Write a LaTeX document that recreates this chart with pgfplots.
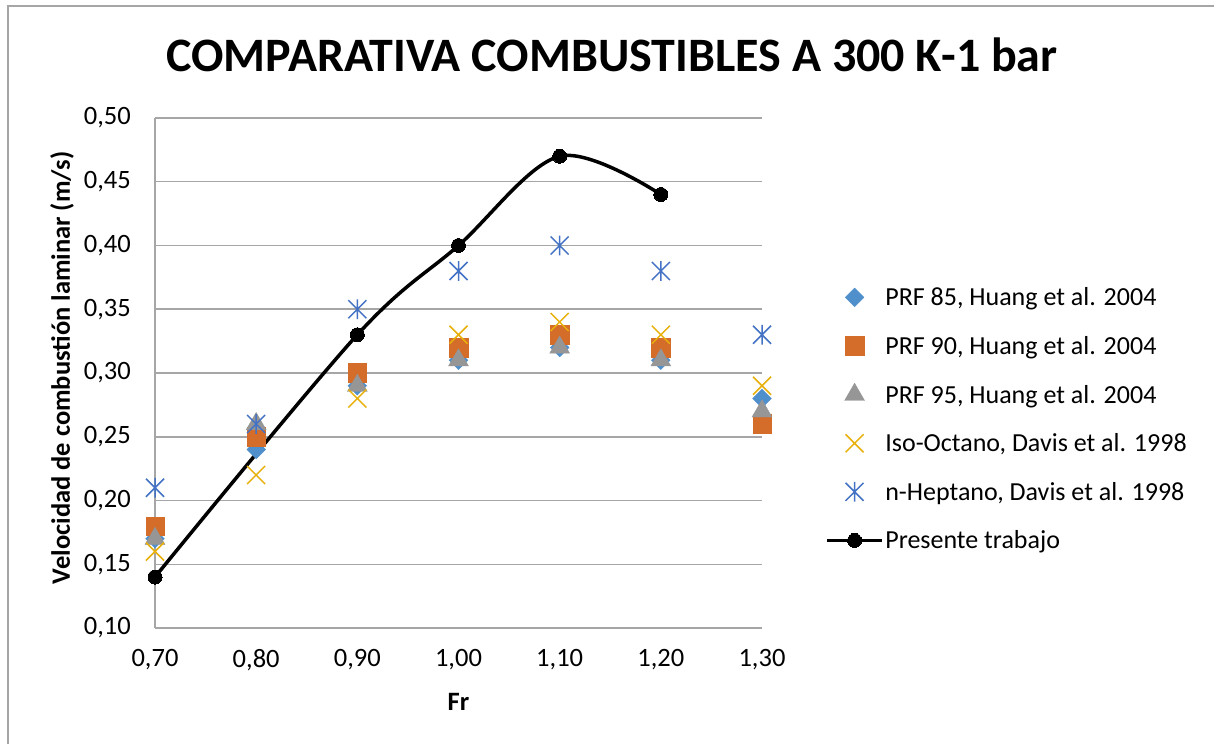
\documentclass[border=0pt]{standalone}
\usepackage{fontspec}
\setmainfont{Carlito}
\usepackage{pgfplots}
\pgfplotsset{compat=1.18}
\definecolor{cA}{HTML}{4F8FCB}
\definecolor{cB}{HTML}{D46C2A}
\definecolor{cC}{HTML}{969696}
\definecolor{cD}{HTML}{E8B00A}
\definecolor{cE}{HTML}{4472C4}
\definecolor{gridgray}{HTML}{A6A6A6}
\pgfdeclareplotmark{myx}{%
  \pgfpathmoveto{\pgfqpoint{-\pgfplotmarksize}{-\pgfplotmarksize}}%
  \pgfpathlineto{\pgfqpoint{\pgfplotmarksize}{\pgfplotmarksize}}%
  \pgfpathmoveto{\pgfqpoint{-\pgfplotmarksize}{\pgfplotmarksize}}%
  \pgfpathlineto{\pgfqpoint{\pgfplotmarksize}{-\pgfplotmarksize}}%
  \pgfusepathqstroke}
\pgfdeclareplotmark{myast}{%
  \pgfpathmoveto{\pgfqpoint{-\pgfplotmarksize}{-\pgfplotmarksize}}%
  \pgfpathlineto{\pgfqpoint{\pgfplotmarksize}{\pgfplotmarksize}}%
  \pgfpathmoveto{\pgfqpoint{-\pgfplotmarksize}{\pgfplotmarksize}}%
  \pgfpathlineto{\pgfqpoint{\pgfplotmarksize}{-\pgfplotmarksize}}%
  \pgfpathmoveto{\pgfqpoint{0pt}{-1.1\pgfplotmarksize}}%
  \pgfpathlineto{\pgfqpoint{0pt}{1.1\pgfplotmarksize}}%
  \pgfusepathqstroke}
\pgfplotsset{mylegend/.style={legend image code/.code={%
  \draw[mark repeat=2,mark phase=2,##1] plot coordinates {(0pt,0pt) (27.5pt,0pt) (55pt,0pt)};}}}
\begin{document}
\begin{tikzpicture}
\useasboundingbox (0,0) rectangle (1214pt,744pt);
\fill[white] (0,0) rectangle (1214pt,744pt);
\draw[gridgray, line width=1.5pt] (8pt,0) -- (8pt,738pt) -- (1214pt,738pt);
\node[anchor=base, inner sep=0pt, font=\fontsize{48}{57}\selectfont\bfseries] at (612pt,672pt) {COMPARATIVA COMBUSTIBLES A 300 K-1 bar};
\begin{axis}[
  at={(155pt,116pt)}, anchor=south west,
  scale only axis, width=607pt, height=510pt,
  xmin=0.7, xmax=1.3, ymin=0.1, ymax=0.5,
  xtick={0.7,0.8,0.9,1.0,1.1,1.2,1.3},
  ytick={0.1,0.15,0.2,0.25,0.3,0.35,0.4,0.45,0.5},
  major tick length=0pt,
  axis x line=bottom, axis y line=left,
  axis line style={-, draw=gridgray, line width=1.5pt},
  ymajorgrids, grid style={gridgray, line width=1.5pt},
  clip=false,
  tick label style={font=\fontsize{26.5}{31}\selectfont},
  yticklabel style={anchor=east, inner sep=0pt, xshift=-24pt},
  xticklabel style={anchor=north, inner sep=0pt, yshift=-21pt},
  /pgf/number format/use comma,
  /pgf/number format/fixed,
  /pgf/number format/fixed zerofill,
  /pgf/number format/precision=2,
  /pgf/number format/assume math mode=true,
  xlabel={Fr},
  ylabel={Velocidad de combustión laminar (m/s)},
  label style={font=\fontsize{26.5}{31}\selectfont\bfseries},
  xlabel style={at={(axis description cs:0.5,-0.145)}, anchor=center},
  ylabel style={at={(axis description cs:-0.153,0.51)}, anchor=center},
  legend style={draw=none, fill=none, at={(axis description cs:1.104,0.41)}, anchor=west,
    inner sep=0pt, font=\fontsize{26}{31}\selectfont, row sep=26pt, nodes={inner sep=1.5pt}},
  legend cell align=left,
]
\addplot[only marks, mark=square*, mark size=6.6pt, mark options={rotate=45, fill=cA, draw=cA}, mylegend]
  coordinates {(0.7,0.17) (0.8,0.24) (0.9,0.29) (1.0,0.31) (1.1,0.32) (1.2,0.31) (1.3,0.28)};
\addlegendentry{PRF 85, Huang et al. 2004}
\addplot[only marks, mark=square*, mark size=9.3pt, mark options={fill=cB, draw=cB}, mylegend]
  coordinates {(0.7,0.18) (0.8,0.25) (0.9,0.30) (1.0,0.32) (1.1,0.33) (1.2,0.32) (1.3,0.26)};
\addlegendentry{PRF 90, Huang et al. 2004}
\addplot[only marks, mark=triangle*, mark size=11.5pt, mark options={fill=cC, draw=cC}, mylegend]
  coordinates {(0.7,0.17) (0.8,0.26) (0.9,0.29) (1.0,0.31) (1.1,0.32) (1.2,0.31) (1.3,0.27)};
\addlegendentry{PRF 95, Huang et al. 2004}
\addplot[only marks, mark=myx, mark size=9pt, mark options={draw=cD, line width=1.5pt}, mylegend]
  coordinates {(0.7,0.16) (0.8,0.22) (0.9,0.28) (1.0,0.33) (1.1,0.34) (1.2,0.33) (1.3,0.29)};
\addlegendentry{Iso-Octano, Davis et al. 1998}
\addplot[only marks, mark=myast, mark size=9pt, mark options={draw=cE, line width=1.5pt}, mylegend]
  coordinates {(0.7,0.21) (0.8,0.26) (0.9,0.35) (1.0,0.38) (1.1,0.40) (1.2,0.38) (1.3,0.33)};
\addlegendentry{n-Heptano, Davis et al. 1998}
\addplot[black, line width=3.5pt, smooth, tension=0.55, mark=*, mark size=7pt, mark options={fill=black, line width=0pt}, mylegend]
  coordinates {(0.7,0.14) (0.9,0.33) (1.0,0.40) (1.1,0.47) (1.2,0.44)};
\addlegendentry{Presente trabajo}
\end{axis}
\end{tikzpicture}
\end{document}
